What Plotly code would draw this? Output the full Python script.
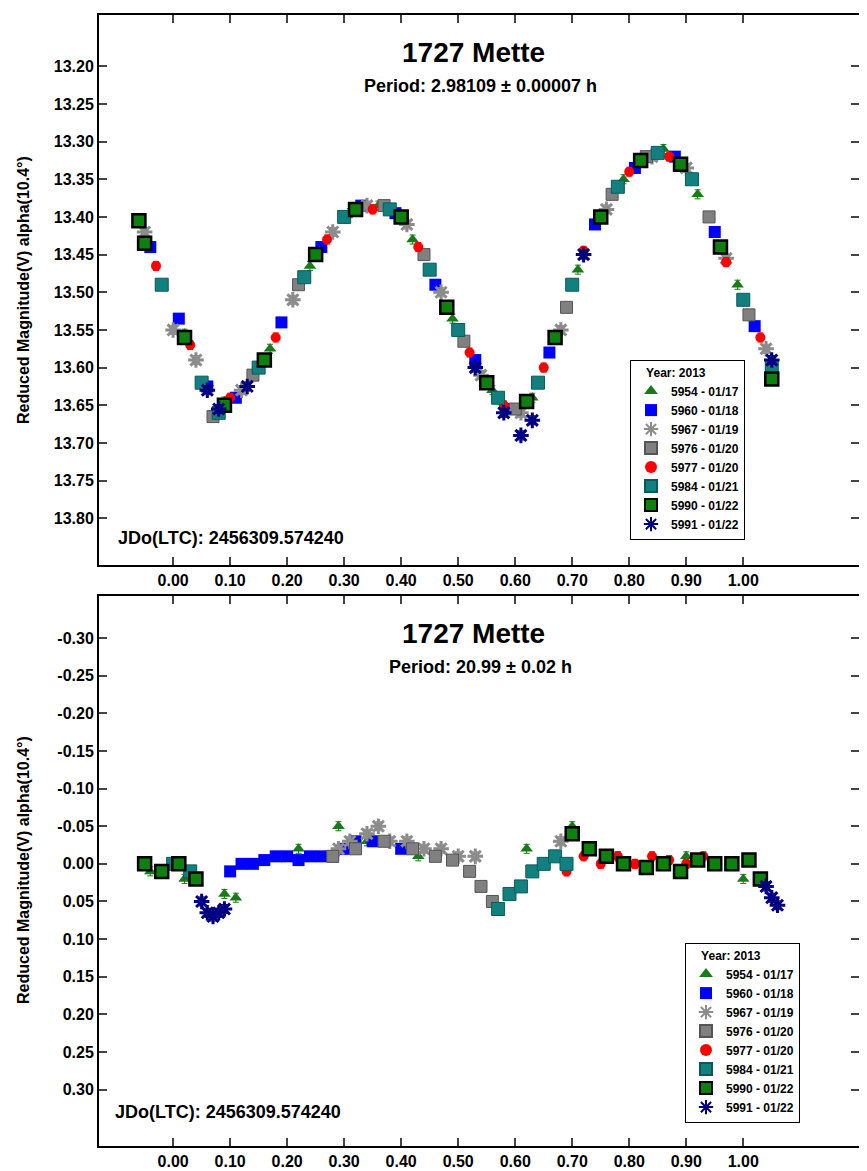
import plotly.graph_objects as go

names = ["5954 - 01/17","5960 - 01/18","5967 - 01/19","5976 - 01/20","5977 - 01/20","5984 - 01/21","5990 - 01/22","5991 - 01/22"]

top_x = [
 [0.02,0.09,0.17,0.24,0.31,0.36,0.42,0.49,0.56,0.63,0.71,0.79,0.86,0.92,0.99],
 [-0.04,0.01,0.06,0.11,0.19,0.26,0.33,0.39,0.46,0.53,0.59,0.66,0.74,0.81,0.88,0.95,1.02],
 [-0.05,0.0,0.04,0.12,0.21,0.28,0.34,0.41,0.47,0.54,0.61,0.68,0.76,0.84,0.9,0.97,1.04],
 [0.07,0.14,0.22,0.37,0.44,0.51,0.6,0.69,0.77,0.83,0.94,1.01],
 [-0.03,0.03,0.1,0.18,0.27,0.35,0.43,0.52,0.58,0.65,0.72,0.8,0.87,0.97,1.03],
 [-0.02,0.05,0.08,0.15,0.23,0.3,0.38,0.45,0.5,0.57,0.64,0.7,0.78,0.85,0.91,1.0,1.05],
 [-0.06,-0.05,0.02,0.09,0.16,0.25,0.32,0.4,0.48,0.55,0.62,0.67,0.75,0.82,0.89,0.96,1.05],
 [0.06,0.08,0.13,0.53,0.58,0.61,0.63,0.72,1.05],
]
top_y = [
 [13.555,13.645,13.575,13.465,13.395,13.385,13.43,13.535,13.63,13.64,13.47,13.35,13.31,13.37,13.49],
 [13.44,13.535,13.625,13.64,13.54,13.44,13.385,13.395,13.49,13.59,13.655,13.58,13.41,13.335,13.32,13.42,13.545],
 [13.42,13.55,13.59,13.63,13.51,13.42,13.385,13.41,13.50,13.61,13.66,13.55,13.39,13.32,13.335,13.455,13.575],
 [13.665,13.61,13.49,13.385,13.45,13.565,13.655,13.52,13.37,13.32,13.40,13.53],
 [13.465,13.57,13.64,13.56,13.43,13.39,13.44,13.58,13.65,13.60,13.445,13.34,13.32,13.46,13.56],
 [13.49,13.62,13.66,13.60,13.48,13.40,13.39,13.47,13.55,13.64,13.62,13.49,13.36,13.315,13.35,13.51,13.60],
 [13.405,13.435,13.56,13.65,13.59,13.45,13.39,13.40,13.52,13.62,13.645,13.56,13.40,13.325,13.33,13.44,13.615],
 [13.63,13.655,13.625,13.6,13.66,13.69,13.67,13.45,13.59],
]
bot_x = [
 [-0.04,0.02,0.09,0.11,0.22,0.29,0.34,0.43,0.62,0.7,0.78,0.9,1.0],
 [0.1,0.12,0.14,0.16,0.18,0.2,0.22,0.24,0.26,0.28,0.3,0.32,0.35,0.4,1.03],
 [0.29,0.31,0.34,0.36,0.38,0.41,0.44,0.47,0.5,0.53,0.68],
 [0.28,0.32,0.37,0.42,0.46,0.49,0.52,0.54,0.56],
 [0.69,0.72,0.75,0.78,0.81,0.84,0.87,0.9,0.93],
 [-0.05,0.0,0.03,0.57,0.59,0.61,0.63,0.65,0.67,0.69],
 [-0.05,-0.02,0.01,0.04,0.7,0.73,0.76,0.79,0.83,0.86,0.89,0.92,0.95,0.98,1.01,1.03],
 [0.05,0.06,0.07,0.08,0.09,1.04,1.05,1.06],
]
bot_y = [
 [0.01,0.02,0.04,0.045,-0.02,-0.05,-0.03,-0.01,-0.02,-0.05,-0.01,-0.01,0.02],
 [0.01,0.0,0.0,-0.005,-0.01,-0.01,-0.005,-0.01,-0.01,-0.01,-0.02,-0.03,-0.03,-0.02,0.02],
 [-0.02,-0.03,-0.04,-0.05,-0.03,-0.03,-0.02,-0.02,-0.01,-0.01,-0.03],
 [-0.01,-0.02,-0.03,-0.02,-0.01,-0.005,0.01,0.03,0.05],
 [0.01,-0.01,0.0,-0.01,0.0,-0.01,-0.005,0.0,-0.01],
 [0.0,0.0,0.01,0.06,0.04,0.03,0.01,0.0,-0.01,0.0],
 [0.0,0.01,0.0,0.02,-0.04,-0.02,-0.01,0.0,0.005,0.0,0.01,-0.005,0.0,0.0,-0.005,0.02],
 [0.05,0.065,0.07,0.065,0.06,0.03,0.045,0.055],
]

markers = [
 dict(symbol="triangle-up", size=11, color="#1a7a1a", line=dict(width=0)),
 dict(symbol="square", size=12, color="#0000ff", line=dict(width=0)),
 dict(symbol="asterisk-open", size=13, color="#8c8c8c", line=dict(width=3, color="#8c8c8c")),
 dict(symbol="square", size=12, color="#808080", line=dict(width=1, color="#555555")),
 dict(symbol="circle", size=10, color="#ff0000", line=dict(width=0)),
 dict(symbol="square", size=13, color="#138080", line=dict(width=1, color="#0a5a5a")),
 dict(symbol="square", size=13, color="#0d800d", line=dict(width=2.5, color="#000000")),
 dict(symbol="asterisk-open", size=13, color="#000080", line=dict(width=3, color="#000080")),
]
errcolors = ["#1a7a1a","#0000ff","#8c8c8c","#808080","#ff0000","#138080","#0d800d","#000080"]

fig = go.Figure()
for i in range(8):
    fig.add_trace(go.Scatter(x=top_x[i], y=top_y[i], mode="markers", name="<b>"+names[i]+"</b>", marker=markers[i],
                             error_y=dict(type="constant", value=0.006, color=errcolors[i], thickness=1, width=3),
                             xaxis="x", yaxis="y", legend="legend"))
for i in range(8):
    fig.add_trace(go.Scatter(x=bot_x[i], y=bot_y[i], mode="markers", name="<b>"+names[i]+"</b>", marker=markers[i],
                             error_y=dict(type="constant", value=0.006, color=errcolors[i], thickness=1, width=3),
                             xaxis="x2", yaxis="y2", legend="legend2"))

F = "Liberation Sans, Arial, sans-serif"
xt = [round(0.1*i, 2) for i in range(11)]
xtt = ["<b>%.2f</b>" % v for v in xt]
yt1 = [round(13.20 + 0.05*i, 2) for i in range(13)]
yt2 = [round(-0.30 + 0.05*i, 2) for i in range(13)]
ax = dict(showline=True, linewidth=2, linecolor="black", mirror="ticks", ticks="inside", ticklen=8,
          tickwidth=1.5, showgrid=False, zeroline=False, tickfont=dict(family=F, size=16, color="black"))
xd = [91/867, 851/867]
leg = dict(xanchor="left", yanchor="top", bgcolor="white", bordercolor="black",
           borderwidth=1, font=dict(family=F, size=12, color="black"), tracegroupgap=0, itemsizing="constant",
           title=dict(text="<b>    Year: 2013</b>", font=dict(size=12)))
fig.update_layout(
    width=867, height=1171, margin=dict(l=0, r=0, t=0, b=0), plot_bgcolor="white", paper_bgcolor="white",
    font=dict(family=F, color="black"),
    xaxis=dict(ax, domain=xd, range=[-0.13, 1.203], tickvals=xt, ticktext=xtt, anchor="y"),
    yaxis=dict(ax, domain=[1-557/1171, 1-7/1171], range=[13.862, 13.132], tickvals=yt1,
               ticktext=["<b>%.2f</b>" % v for v in yt1], anchor="x"),
    xaxis2=dict(ax, domain=xd, range=[-0.13, 1.203], tickvals=xt, ticktext=xtt, anchor="y2"),
    yaxis2=dict(ax, domain=[1-1138/1171, 1-588/1171], range=[0.375, -0.356], tickvals=yt2,
                ticktext=["<b>%.2f</b>" % v for v in yt2], anchor="x2"),
    legend=dict(leg, x=622/867, y=1-352/1171),
    legend2=dict(leg, x=677/867, y=1-935/1171),
)

ann = []
for yc, per, jd_y, lab_y in [(44, "Period: 2.98109 ± 0.00007 h", 530, 282), (625, "Period: 20.99 ± 0.02 h", 1104, 862)]:
    ann.append(dict(x=465/867, y=1-yc/1171, xref="paper", yref="paper", yanchor="middle", xanchor="center",
                    text="<b>1727 Mette</b>", showarrow=False, font=dict(family=F, size=28)))
    ann.append(dict(x=472/867, y=1-(yc+34)/1171, xref="paper", yref="paper", yanchor="middle", xanchor="center",
                    text="<b>"+per+"</b>", showarrow=False, font=dict(family=F, size=18)))
    ann.append(dict(x=(108 if jd_y == 530 else 105)/867, y=1-jd_y/1171, xref="paper", yref="paper", xanchor="left",
                    yanchor="middle", text="<b>JDo(LTC): 2456309.574240</b>", showarrow=False, font=dict(family=F, size=18)))
    ann.append(dict(x=15/867, y=1-lab_y/1171, xref="paper", yref="paper", textangle=-90, xanchor="center",
                    yanchor="middle", text="<b>Reduced Magnitude(V) alpha(10.4°)</b>", showarrow=False,
                    font=dict(family=F, size=16)))
fig.update_layout(annotations=ann)
fig.write_html("out.html")
